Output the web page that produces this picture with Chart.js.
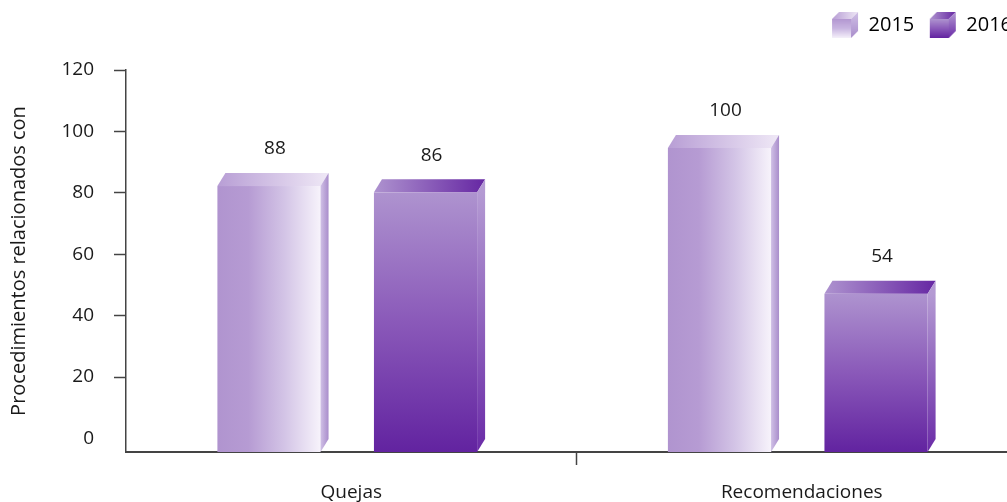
<!DOCTYPE html>
<html>
<head>
<meta charset="utf-8">
<script src="https://cdn.jsdelivr.net/npm/chart.js@4.4.0/dist/chart.umd.min.js"></script>
<style>
html, body { margin: 0; padding: 0; background: #fff; overflow: hidden; }
#wrap { width: 1050px; height: 502px; }
</style>
</head>
<body>
<div id="wrap"><canvas id="chart" width="1050" height="502"></canvas></div>
<script>
// data
const categories = ['Quejas', 'Recomendaciones'];
const years = ['2015', '2016'];
const values2015 = [88, 100];
const values2016 = [86, 54];
const yTicks = [0, 20, 40, 60, 80, 100, 120];
const yTitle = 'Procedimientos relacionados con';

const yMin = -4.4;   // labelled axis: the 0 label sits above the axis line
const barMax = 120.5; // bars are scaled from the axis line itself
const DX = 8, DY = 13; // depth of the 3d boxes
const FONT = 'Open Sans';
const TXT = '#1a1a1a';
const AXIS = '#444';

// colour sets for the two series
const looks = [
  { front: [[0, '#b094cf'], [0.3, '#b69bd3'], [0.65, '#d3c4e6'], [1, '#f7f3fb']], frontDir: 'h',
    top: [[0, '#b89ed5'], [1, '#efe8f6']],
    side: [[0, '#d0c0e6'], [1, '#a98dcb']], sideDir: 'h' },
  { front: [[0, '#ae93cf'], [0.5, '#8a59b9'], [1, '#6223a0']], frontDir: 'v',
    top: [[0, '#ae93cf'], [1, '#6627a3']],
    side: [[0, '#b49ad3'], [1, '#6a2ba7']], sideDir: 'v' }
];

function grad(ctx, x0, y0, x1, y1, stops) {
  const g = ctx.createLinearGradient(x0, y0, x1, y1);
  stops.forEach(s => g.addColorStop(s[0], s[1]));
  return g;
}

// little cube icons for the legend
function cubeIcon(look) {
  const c = document.createElement('canvas');
  c.width = 28; c.height = 28;
  const g = c.getContext('2d');
  const d = 7, l = 1, r = 27, t = 1, b = 27;
  g.fillStyle = look.frontDir === 'h'
    ? grad(g, 0, t + d, 0, b, [[0, '#b397d1'], [0.5, '#c9b6e1'], [1, '#f5f0fa']])
    : grad(g, 0, t + d, 0, b, look.front);
  g.fillRect(l, t + d, r - d - l, b - t - d);
  g.beginPath();
  g.moveTo(l, t + d); g.lineTo(l + d, t); g.lineTo(r, t); g.lineTo(r - d, t + d); g.closePath();
  g.fillStyle = grad(g, l, 0, r, 0, look.top);
  g.fill();
  g.beginPath();
  g.moveTo(r - d, t + d); g.lineTo(r, t); g.lineTo(r, b - d); g.lineTo(r - d, b); g.closePath();
  g.fillStyle = grad(g, 0, t, 0, b, look.side);
  g.fill();
  return c;
}
const icons = looks.map(cubeIcon);

// give the legend a fixed block of height so the plot starts lower
const legendSpace = {
  id: 'legendSpace',
  beforeLayout(chart) {
    const lg = chart.legend;
    if (!lg || lg._patched) return;
    const fit = lg.fit;
    lg.fit = function () { fit.call(this); this.height = 70; };
    lg._patched = true;
  }
};

const bars3d = {
  id: 'bars3d',
  afterDatasetsDraw(chart) {
    const ctx = chart.ctx;
    chart.data.datasets.forEach((ds, di) => {
      const meta = chart.getDatasetMeta(di);
      const look = looks[di];
      meta.data.forEach((el, i) => {
        const p = el.getProps(['x', 'y', 'base', 'width'], true);
        const left = p.x - p.width / 2, right = p.x + p.width / 2;
        const fr = right - DX, ft = p.y + DY, base = p.base;
        ctx.save();
        // front face
        ctx.fillStyle = look.frontDir === 'h'
          ? grad(ctx, left, 0, fr, 0, look.front)
          : grad(ctx, 0, ft, 0, base, look.front);
        ctx.fillRect(left, ft, fr - left, base - ft);
        // top face
        ctx.beginPath();
        ctx.moveTo(left, ft); ctx.lineTo(left + DX, p.y); ctx.lineTo(right, p.y); ctx.lineTo(fr, ft);
        ctx.closePath();
        ctx.fillStyle = grad(ctx, left, 0, right, 0, look.top);
        ctx.fill();
        // side face
        ctx.beginPath();
        ctx.moveTo(fr, ft); ctx.lineTo(right, p.y); ctx.lineTo(right, base - DY); ctx.lineTo(fr, base);
        ctx.closePath();
        ctx.fillStyle = look.sideDir === 'h'
          ? grad(ctx, fr, 0, right, 0, look.side)
          : grad(ctx, 0, ft, 0, base, look.side);
        ctx.fill();
        // value label
        ctx.fillStyle = TXT;
        ctx.font = '19px "' + FONT + '"';
        ctx.textAlign = 'center';
        ctx.textBaseline = 'middle';
        ctx.fillText(String(ds.data[i]), p.x + 2, p.y - 24);
        ctx.restore();
      });
    });
  }
};

const ctx = document.getElementById('chart').getContext('2d');
new Chart(ctx, {
  type: 'bar',
  data: {
    labels: categories,
    datasets: [
      { label: years[0], data: values2015 },
      { label: years[1], data: values2016 }
    ].map(d => Object.assign(d, {
      backgroundColor: 'rgba(0,0,0,0)', borderWidth: 0, yAxisID: 'yBars',
      categoryPercentage: 0.695, barPercentage: 0.71
    }))
  },
  options: {
    responsive: false,
    animation: false,
    events: [],
    layout: { padding: { top: 0, right: 23, left: 0, bottom: 0 } },
    plugins: {
      tooltip: { enabled: false },
      legend: {
        position: 'top',
        align: 'end',
        labels: {
          usePointStyle: true,
          pointStyleWidth: 27,
          boxHeight: 20,
          padding: 15,
          color: TXT,
          font: { family: FONT, size: 20 },
          generateLabels: chart => chart.data.datasets.map((ds, i) => ({
            text: ds.label, pointStyle: icons[i], fillStyle: 'rgba(0,0,0,0)',
            strokeStyle: 'rgba(0,0,0,0)', lineWidth: 0, hidden: false, datasetIndex: i
          }))
        }
      }
    },
    scales: {
      x: {
        offset: true,
        afterFit: s => { s.height = 50; },
        grid: {
          offset: true, drawOnChartArea: false, tickLength: 13, tickWidth: 1.5,
          tickColor: c => c.index === 0 ? 'rgba(0,0,0,0)' : AXIS
        },
        border: { display: true, color: AXIS, width: 2 },
        ticks: { padding: 16, color: TXT, font: { family: FONT, size: 19 } }
      },
      y: {
        position: 'left',
        min: yMin,
        max: 120,
        afterFit: s => { s.width = 126; },
        afterBuildTicks: s => { s.ticks = yTicks.map(v => ({ value: v })); },
        grid: {
          drawOnChartArea: false, tickLength: 12, tickWidth: 1.5,
          tickColor: c => (c.tick && c.tick.value === 0) ? 'rgba(0,0,0,0)' : AXIS
        },
        border: { display: true, color: AXIS, width: 1.5 },
        ticks: { padding: 20, color: TXT, font: { family: FONT, size: 19 } },
        title: {
          display: true, text: yTitle, color: TXT,
          font: { family: FONT, size: 20 }, padding: { top: 7, bottom: 0 }
        }
      },
      yBars: {
        display: false,
        min: 0,
        max: barMax
      }
    }
  },
  plugins: [legendSpace, bars3d]
});
</script>
</body>
</html>
